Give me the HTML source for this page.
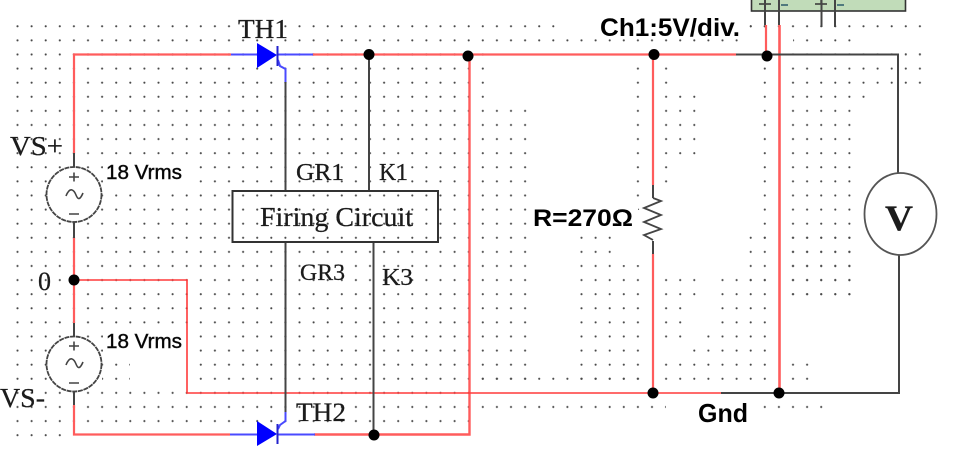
<!DOCTYPE html>
<html><head><meta charset="utf-8"><style>
html,body{margin:0;padding:0;background:#fff;width:973px;height:461px;overflow:hidden}
svg{display:block}
.s{font-family:"Liberation Serif",serif;fill:#1a1a1a;stroke:#1a1a1a;stroke-width:.25}
.a{font-family:"Liberation Sans",sans-serif;fill:#000}
</style></head><body>
<svg width="973" height="461" viewBox="0 0 973 461" xmlns="http://www.w3.org/2000/svg">
<defs>
<pattern id="d" patternUnits="userSpaceOnUse" x="10.45" y="19.25" width="14.1" height="14.1"><circle cx="7.05" cy="7.05" r="1.05" fill="#484848"/></pattern>
<filter id="b" x="-5%" y="-5%" width="110%" height="110%"><feGaussianBlur stdDeviation="0.35"/></filter>
</defs>
<rect width="973" height="461" fill="#fff"/>
<g fill="url(#d)">
<rect x="10" y="20" width="545" height="13"/>
<rect x="10" y="33" width="850" height="14"/>
<rect x="745" y="20" width="180" height="13"/>
<rect x="10" y="47" width="55" height="395"/>
<rect x="65" y="47" width="415" height="380"/>
<rect x="476" y="47" width="14" height="60"/>
<rect x="476" y="104" width="52" height="280"/>
<rect x="476" y="372" width="170" height="12"/>
<rect x="476" y="400" width="190" height="14"/>
<rect x="576" y="232" width="28" height="150"/>
<rect x="604" y="232" width="14" height="150"/>
<rect x="618" y="265" width="28" height="118"/>
<rect x="632" y="60" width="14" height="150"/>
<rect x="660" y="60" width="14" height="125"/>
<rect x="674" y="89" width="28" height="72"/>
<rect x="660" y="278" width="42" height="28"/>
<rect x="660" y="306" width="28" height="42"/>
<rect x="660" y="358" width="110" height="26"/>
<rect x="688" y="348" width="14" height="14"/>
<rect x="702" y="330" width="68" height="32"/>
<rect x="716" y="274" width="54" height="60"/>
<rect x="744" y="232" width="26" height="50"/>
<rect x="758" y="60" width="14" height="180"/>
<rect x="786" y="46" width="140" height="8"/>
<rect x="786" y="60" width="140" height="28"/>
<rect x="786" y="88" width="70" height="210"/>
<rect x="786" y="358" width="26" height="26"/>
<rect x="758" y="400" width="68" height="14"/>
<rect x="900" y="46" width="26" height="14"/>
<rect x="786" y="228" width="70" height="68" />
<rect x="862" y="88" width="14" height="14"/>
</g>
<g fill="#fff">
<rect x="103" y="160" width="85" height="26"/>
<rect x="103" y="328" width="85" height="26"/>
<rect x="88" y="354" width="14" height="30"/>
<rect x="130" y="354" width="60" height="30"/>
<rect x="530" y="200" width="108" height="32"/>
<rect x="745" y="30" width="48" height="20"/>
<rect x="555" y="20" width="190" height="13"/>
</g>
<g fill="url(#d)"><rect x="750" y="20" width="20" height="13"/></g>

<!-- green box -->
<rect x="751.5" y="-3" width="154" height="14" fill="#c1dcb9" stroke="#333" stroke-width="1.6"/>
<g fill="none" stroke="#333" stroke-width="1.4">
<path d="M759 4 L771 4 M765 0 V4 M821 0 V4 M815 4 H827"/>
<path d="M781 5 H788 M837 5 H844" stroke="#2a5a6a"/>
</g>

<g fill="none" stroke-linecap="butt" stroke-linejoin="miter">
<!-- red wires -->
<g stroke="#ff5c5c" stroke-width="2.2">
<path d="M74 153 V54.5 H231"/>
<path d="M312 54.5 H736"/>
<path d="M74 238 V323"/>
<path d="M74 405 V434.5 H230"/>
<path d="M314 434.5 H469.5 V56" stroke-width="2.4"/>
<path d="M653 56 V185"/>
<path d="M653 254 V393"/>
<path d="M766 25 V56"/>
<path d="M779.5 25 V393" stroke-width="2.6"/>
</g>
<g stroke="#ff3a3a" stroke-width="1.6">
<path d="M74 280 H187 V393 H721"/>
</g>
<!-- black wires -->
<g stroke="#444" stroke-width="2">
<path d="M736 54.5 H898 V173"/>
<path d="M721 393 H899 V255"/>
<path d="M74 153 V167 M74 222 V238 M74 323 V336 M74 391 V405"/>
<path d="M369 54 V191"/>
<path d="M373.5 242 V435"/>
<path d="M285.5 82 V191"/>
<path d="M285.5 242 V412"/>
<path d="M653 185 V198 M653 241 V254"/>
<path d="M653 198 L661 201 L644 208 L661 215 L644 222 L661 229 L644 235 L653 240" stroke-width="1.8"/>
<path d="M765 0 V25 M779 0 V25 M821.5 0 V27 M835 0 V27"/>
</g>
<!-- blue -->
<g stroke="#4a4aff" stroke-width="2">
<path d="M231 54.5 H258 M277 54.5 H313"/>
<path d="M230 434.5 H258 M277 434.5 H315"/>
<path d="M278 60 L280 66 L285.5 69 V82"/>
<path d="M278 429 L280 425 L285.5 421 V412"/>
</g>
</g>
<!-- thyristors -->
<polygon points="257,43 277,55 257,68" fill="#0000ff"/>
<path d="M277.5 46 V66" stroke="#2222cc" stroke-width="2"/>
<polygon points="257,421 277,434 257,446" fill="#0000ff"/>
<path d="M277.5 424 V444" stroke="#2222cc" stroke-width="2"/>

<!-- sources -->
<g fill="#fff" stroke="#444" stroke-width="1.8">
<circle cx="74" cy="194.5" r="27.5" stroke-dasharray="5 0.7"/>
<circle cx="74" cy="364" r="27.5" stroke-dasharray="5 0.7"/>
</g>
<g fill="none" stroke="#444" stroke-width="1.6">
<path d="M69 177 H79 M74 172.5 V181.5 M69 214 H79"/>
<path d="M66 196 C70 186,74 190,76 195 C78 200,80 200,83 193"/>
<path d="M69 346 H79 M74 341.5 V350.5 M69 383 H79"/>
<path d="M66 365 C70 355,74 359,76 364 C78 369,80 369,83 362"/>
</g>

<!-- voltmeter -->
<ellipse cx="900.5" cy="214" rx="36" ry="41" fill="#fff" stroke="#555" stroke-width="1.8"/>

<!-- firing box -->
<rect x="232.5" y="191" width="205.5" height="51" fill="none" stroke="#333" stroke-width="2"/>

<!-- junctions -->
<g fill="#000">
<circle cx="74" cy="280" r="5.5"/>
<circle cx="369" cy="54.5" r="5.5"/>
<circle cx="468" cy="56" r="5.5"/>
<circle cx="654" cy="54.5" r="5.5"/>
<circle cx="767" cy="56" r="5.5"/>
<circle cx="653" cy="393" r="5.5"/>
<circle cx="779" cy="393" r="5.5"/>
<circle cx="374" cy="435" r="5.5"/>
</g>

<!-- labels -->
<g filter="url(#b)">
<text class="s" x="238" y="38" font-size="27" textLength="50" lengthAdjust="spacingAndGlyphs">TH1</text>
<text class="s" x="10" y="155" font-size="27" textLength="53" lengthAdjust="spacingAndGlyphs">VS+</text>
<text class="s" x="0" y="407" font-size="27" textLength="45" lengthAdjust="spacingAndGlyphs">VS-</text>
<text class="s" x="38" y="290" font-size="26" textLength="13" lengthAdjust="spacingAndGlyphs">0</text>
<text class="s" x="296" y="180" font-size="24" textLength="48" lengthAdjust="spacingAndGlyphs">GR1</text>
<text class="s" x="379" y="180" font-size="24" textLength="29" lengthAdjust="spacingAndGlyphs">K1</text>
<text class="s" x="300" y="280" font-size="23" textLength="45" lengthAdjust="spacingAndGlyphs">GR3</text>
<text class="s" x="382" y="285" font-size="24" textLength="31" lengthAdjust="spacingAndGlyphs">K3</text>
<text class="s" x="296" y="421" font-size="26" textLength="50" lengthAdjust="spacingAndGlyphs">TH2</text>
<text class="s" x="260" y="226" font-size="27" textLength="153" lengthAdjust="spacingAndGlyphs">Firing Circuit</text>
<text class="s" x="885" y="230" font-size="36" font-weight="700" textLength="28" lengthAdjust="spacingAndGlyphs">V</text>
<text class="a" x="106" y="179" font-size="20" stroke="#222" stroke-width="0.5" textLength="76" lengthAdjust="spacingAndGlyphs">18 Vrms</text>
<text class="a" x="106" y="348" font-size="20" stroke="#222" stroke-width="0.5" textLength="76" lengthAdjust="spacingAndGlyphs">18 Vrms</text>
<text class="a" x="533" y="226" font-size="24" font-weight="700" textLength="100" lengthAdjust="spacingAndGlyphs">R=270Ω</text>
<text class="a" x="600" y="36" font-size="25" font-weight="700" textLength="140" lengthAdjust="spacingAndGlyphs">Ch1:5V/div.</text>
<text class="a" x="698" y="422" font-size="26" font-weight="700" textLength="50" lengthAdjust="spacingAndGlyphs">Gnd</text>
</g>
</svg>
</body></html>
